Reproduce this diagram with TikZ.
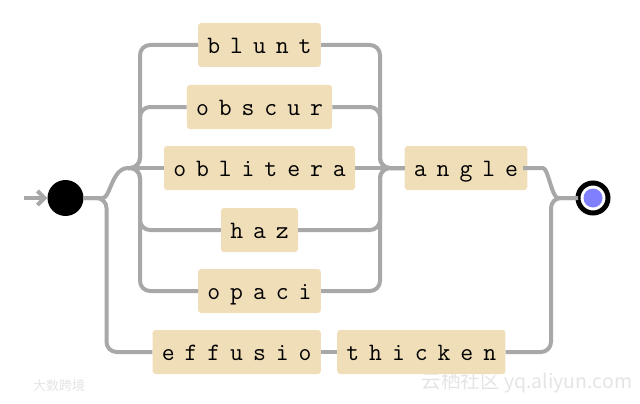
\documentclass[tikz,border=0pt]{standalone}
\usepackage{fontspec}
\newfontfamily\cjk{Noto Sans CJK SC}
\usetikzlibrary{arrows.meta}
\definecolor{boxfill}{RGB}{239,222,184}
\definecolor{railgray}{RGB}{168,168,168}
\definecolor{endblue}{RGB}{128,128,255}
\definecolor{wmark}{RGB}{228,228,228}
\def\rrletters#1{\ifx#1\relax\else\makebox[22.8pt]{#1}\expandafter\rrletters\fi}
\begin{document}
\begin{tikzpicture}[x=1pt,y=-1pt,
  rrbox/.style={fill=boxfill, rounded corners=3pt, inner xsep=4.3pt, inner ysep=0pt,
    minimum height=44pt, text height=17pt, text depth=0pt,
    font=\fontsize{25}{25}\ttfamily\selectfont},
  rail/.style={draw=railgray, line width=4pt, rounded corners=10pt},
  wm/.style={text=wmark, inner sep=0pt}]
\useasboundingbox (0,0) rectangle (640,404);
% watermarks
\node[wm, font=\cjk\fontsize{19.5}{19.5}\selectfont] (wm1) at (527,383) {云栖社区 yq.aliyun.com};
\node[wm, font=\cjk\fontsize{13}{13}\selectfont] (wm2) at (59,386) {大数跨境};
% nodes
\node[rrbox] (blunt) at (259.5,45) {\rrletters blunt\relax};
\node[rrbox] (obscur) at (259.5,107) {\rrletters obscur\relax};
\node[rrbox] (oblitera) at (259.5,168) {\rrletters oblitera\relax};
\node[rrbox] (haz) at (259.5,230) {\rrletters haz\relax};
\node[rrbox] (opaci) at (259.5,291) {\rrletters opaci\relax};
\node[rrbox] (angle) at (466,168) {\rrletters angle\relax};
\node[rrbox] (effusio) at (236.7,352) {\rrletters effusio\relax};
\node[rrbox] (thicken) at (421.3,352) {\rrletters thicken\relax};
\node[circle, fill=black, minimum size=36pt, inner sep=0pt] (start) at (65.5,198) {};
\node[circle, draw=black, line width=5pt, fill=white, minimum size=30pt, inner sep=0pt] (end) at (593,198) {};
\fill[endblue] (end.center) circle (9.5);
% coordinates
\coordinate (ent) at (24,198);
\coordinate (sj) at (93,198);
\coordinate (lj) at (128,168);
\coordinate (lv) at (140,168);
\coordinate (rv) at (380,168);
\coordinate (aj) at (533,168);
\coordinate (ej) at (568,198);
\coordinate (lb) at (106.5,352);
\coordinate (rb) at (551,198);
% connectors
\draw[rail, -{Straight Barb[length=7pt,width=14pt]}] (ent) -- (start.west);
\draw[rail] (start.east) -- (sj) .. controls (110,198) and (112,168) .. (lj);
\draw[rail] (lj) -| (lv |- blunt) -- (blunt.west);
\draw[rail] (lj) -| (lv |- obscur) -- (obscur.west);
\draw[rail] (lj) -- (oblitera.west);
\draw[rail] (lj) -| (lv |- haz) -- (haz.west);
\draw[rail] (lj) -| (lv |- opaci) -- (opaci.west);
\draw[rail] (blunt.east) -| (rv) -- (angle.west);
\draw[rail] (obscur.east) -| (rv) -- (angle.west);
\draw[rail] (oblitera.east) -- (angle.west);
\draw[rail] (haz.east) -| (rv) -- (angle.west);
\draw[rail] (opaci.east) -| (rv) -- (angle.west);
\draw[rail] (angle.east) -- (aj) .. controls (548,168) and (552,198) .. (ej) -- (end.west);
\draw[rail] (start.east) -| (lb) -- (effusio.west);
\draw[rail] (effusio.east) -- (thicken.west);
\draw[rail] (thicken.east) -| (rb) -- (end.west);
\end{tikzpicture}
\end{document}
